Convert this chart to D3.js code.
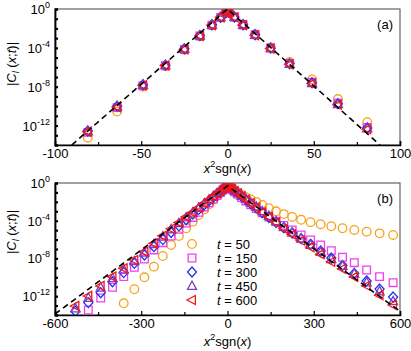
<!DOCTYPE html>
<html><head><meta charset="utf-8">
<script src="https://cdn.jsdelivr.net/npm/d3@7"></script>
<style>
body{margin:0;background:#fff;}
svg{display:block;font-family:"Liberation Sans",Arial,sans-serif;}
</style></head>
<body><svg id="c" width="411" height="351"></svg>
<script>
// ---------- DATA ----------
const seriesNames = ["t = 50","t = 150","t = 300","t = 450","t = 600"];
const seriesColors = ["#f7a21b","#f03ef0","#1c32f0","#7a3fc0","#f41515"];
const seriesShapes = ["circle","square","diamond","triangleUp","triangleLeft"];

// panel (a): x^2 sgn(x) for x = -9..9 ; values as log10|C|
const xA = [-81,-64,-49,-36,-25,-16,-9,-4,-1,0,1,4,9,16,25,36,49,64,81];
const a50  = [-13.25,-10.55,-8.0,-5.9,-4.2,-2.8,-1.68,-0.88,-0.42,-0.12,-0.37,-0.83,-1.6,-2.6,-3.95,-5.45,-7.25,-9.27,-11.65];
const a150 = [-12.7,-10.15,-7.9,-5.84,-4.17,-2.78,-1.67,-0.86,-0.4,-0.1,-0.36,-0.84,-1.64,-2.66,-4.02,-5.6,-7.55,-9.7,-12.2];
const a300 = [-12.55,-10.0,-7.8,-5.78,-4.1,-2.74,-1.63,-0.84,-0.38,-0.08,-0.34,-0.82,-1.62,-2.66,-4.03,-5.63,-7.6,-9.75,-12.25];
const a450 = [-12.6,-10.05,-7.82,-5.8,-4.12,-2.75,-1.64,-0.85,-0.4,-0.1,-0.35,-0.83,-1.64,-2.68,-4.05,-5.66,-7.65,-9.8,-12.3];
const a600 = [-12.63,-10.1,-7.85,-5.81,-4.15,-2.77,-1.66,-0.86,-0.4,-0.1,-0.35,-0.85,-1.66,-2.7,-4.08,-5.7,-7.68,-9.86,-12.38];
const lineAx = [-90.3,0,88.4];
const lineAy = [-14,0,-14];

// panel (b): x^2 sgn(x) for x = -24..24 ; values as log10|C| (null = below axis)
const xB = [-576,-529,-484,-441,-400,-361,-324,-289,-256,-225,-196,-169,-144,-121,-100,-81,-64,-49,-36,-25,-16,-9,-4,-1,
            0,1,4,9,16,25,36,49,64,81,100,121,144,169,196,225,256,289,324,361,400,441,484,529,576];
const b50  = [null,null,null,null,null,-12.76,-11.27,-10.0,-8.87,-7.74,-6.57,-5.62,-4.8,-4.1,-3.4,-2.8,-2.25,-1.75,-1.35,-1.0,-0.75,-0.55,-0.42,-0.33,
              -0.3,-0.32,-0.38,-0.48,-0.62,-0.8,-1.0,-1.25,-1.5,-1.75,-2.0,-2.33,-2.68,-3.0,-3.3,-3.6,-3.9,-4.15,-4.37,-4.58,-4.8,-4.98,-5.16,-5.34,-5.51];
const b150 = [null,null,-13.47,-12.2,-11.06,-9.93,-8.94,-8.06,-7.1,-6.33,-5.62,-4.9,-4.25,-3.65,-3.1,-2.55,-2.1,-1.7,-1.3,-1.0,-0.72,-0.52,-0.38,-0.3,
              -0.27,-0.3,-0.37,-0.5,-0.68,-0.92,-1.2,-1.55,-1.9,-2.3,-2.72,-3.15,-3.6,-4.05,-4.5,-4.98,-5.51,-6.04,-6.57,-7.18,-7.88,-8.45,-9.23,-9.93,-10.57];
const b300 = [null,-13.6,-12.69,-11.63,-10.47,-9.5,-8.52,-7.64,-6.75,-6.0,-5.25,-4.55,-3.9,-3.3,-2.8,-2.3,-1.88,-1.5,-1.15,-0.9,-0.66,-0.48,-0.36,-0.28,
              -0.25,-0.28,-0.35,-0.47,-0.63,-0.85,-1.1,-1.42,-1.78,-2.2,-2.65,-3.15,-3.65,-4.2,-4.75,-5.3,-5.9,-6.5,-7.2,-7.95,-8.75,-9.6,-10.4,-11.25,-12.1];
const b450 = [null,-13.3,-12.2,-11.1,-10.1,-9.2,-8.3,-7.4,-6.5,-5.7,-4.93,-4.27,-3.66,-3.15,-2.64,-2.18,-1.77,-1.42,-1.11,-0.86,-0.64,-0.48,-0.35,-0.28,
              -0.25,-0.28,-0.35,-0.47,-0.63,-0.84,-1.08,-1.37,-1.7,-2.1,-2.53,-3.0,-3.5,-4.07,-4.7,-5.28,-5.9,-6.58,-7.3,-8.08,-8.8,-9.62,-10.55,-11.5,-12.55];
const b600 = [null,-13.04,-11.98,-10.92,-9.93,-9.05,-8.17,-7.28,-6.4,-5.6,-4.85,-4.2,-3.6,-3.1,-2.6,-2.15,-1.75,-1.4,-1.1,-0.85,-0.63,-0.47,-0.35,-0.28,
              -0.25,-0.28,-0.35,-0.47,-0.63,-0.85,-1.1,-1.4,-1.75,-2.15,-2.6,-3.1,-3.6,-4.2,-4.85,-5.45,-6.1,-6.8,-7.55,-8.35,-9.1,-9.95,-10.9,-11.9,-12.94];
const lineBx = [-600,0,600];
const lineBy = [-13.9,-0.3,-13.6];

const xTicksA = [-100,-50,0,50,100], xMinorA = [-75,-25,25,75];
const xTicksB = [-600,-300,0,300,600], xMinorB = [-450,-150,150,450];
const yLabelExps = [0,-4,-8,-12];
const yTickExps = [0,-1,-2,-3,-4,-5,-6,-7,-8,-9,-10,-11,-12,-13,-14];

// ---------- DRAW ----------
const svg = d3.select("#c");
const L = 55, R = 400;
const panels = [
  {top:9, bottom:145, xd:[-100,100], ticks:xTicksA, minor:xMinorA, tag:"(a)", xs:xA,
   data:[a50,a150,a300,a450,a600], lx:lineAx, ly:lineAy, legend:false, xtitleY:173, ytitleY:64},
  {top:183, bottom:315, xd:[-600,600], ticks:xTicksB, minor:xMinorB, tag:"(b)", xs:xB,
   data:[b50,b150,b300,b450,b600], lx:lineBx, ly:lineBy, legend:true, xtitleY:346, ytitleY:232}
];

function shapePath(shape, s){
  const h = s/2;
  switch(shape){
    case "circle": return null;
    case "square": { const a=h*0.85; return `M${-a},${-a}H${a}V${a}H${-a}Z`; }
    case "diamond": return `M0,${-h-0.5}L${h},0L0,${h+0.5}L${-h},0Z`;
    case "triangleUp": return `M0,${-h-0.5}L${h},${h*0.75}L${-h},${h*0.75}Z`;
    case "triangleLeft": return `M${-h-0.5},0L${h*0.75},${-h}L${h*0.75},${h}Z`;
  }
}
function drawMarker(g, shape, color, x, y){
  if(shape==="circle"){
    g.append("circle").attr("cx",x).attr("cy",y).attr("r",4.3)
     .attr("fill","none").attr("stroke",color).attr("stroke-width",1.3);
  } else {
    g.append("path").attr("d",shapePath(shape,9)).attr("transform",`translate(${x},${y})`)
     .attr("fill","none").attr("stroke",color).attr("stroke-width",1.3);
  }
}

panels.forEach((p,i)=>{
  const x = d3.scaleLinear().domain(p.xd).range([L,R]);
  const y = d3.scaleLog().domain([1e-14,1]).range([p.bottom,p.top]);
  const cid = "clip"+i;
  svg.append("clipPath").attr("id",cid).append("rect")
    .attr("x",L).attr("y",p.top).attr("width",R-L).attr("height",p.bottom-p.top);

  // frame
  svg.append("rect").attr("x",L).attr("y",p.top).attr("width",R-L).attr("height",p.bottom-p.top)
    .attr("fill","none").attr("stroke","#444").attr("stroke-width",1);

  // x axis
  const gx = svg.append("g").attr("transform",`translate(0,${p.bottom})`)
    .call(d3.axisBottom(x).tickValues(p.ticks).tickSize(-4).tickPadding(4).tickFormat(d=>String(d)));
  gx.select(".domain").attr("stroke","#000").attr("stroke-width",1.6);
  gx.selectAll(".tick line").attr("stroke","#000").attr("stroke-width",1.2);
  gx.selectAll("text").attr("font-size",13).attr("fill","#000").attr("font-family","Liberation Sans, Arial, sans-serif");
  const gxm = svg.append("g").attr("transform",`translate(0,${p.bottom})`)
    .call(d3.axisBottom(x).tickValues(p.minor).tickSize(-3).tickFormat(""));
  gxm.select(".domain").remove();
  gxm.selectAll(".tick line").attr("stroke","#000").attr("stroke-width",1.2);

  // y axis
  const gy = svg.append("g").attr("transform",`translate(${L},0)`)
    .call(d3.axisLeft(y).tickValues(yTickExps.map(e=>Math.pow(10,e))).tickSize(-3).tickPadding(5).tickFormat(""));
  gy.select(".domain").attr("stroke","#000").attr("stroke-width",1.8);
  gy.selectAll(".tick line").attr("stroke","#000").attr("stroke-width",2.2);
  gy.selectAll(".tick text").remove();
  yLabelExps.forEach(e=>{
    const t = svg.append("text").attr("x",L-5).attr("y",y(Math.pow(10,e))+5)
      .attr("text-anchor","end").attr("font-size",13).attr("fill","#000");
    t.append("tspan").text("10");
    t.append("tspan").attr("font-size",9).attr("dy",-6).text(String(e));
  });

  // marks
  const gm = svg.append("g").attr("clip-path",`url(#${cid})`);
  p.data.forEach((arr,k)=>{
    p.xs.forEach((xv,j)=>{
      const v = arr[j];
      if(v===null) return;
      drawMarker(gm, seriesShapes[k], seriesColors[k], x(xv), y(Math.pow(10,v)));
    });
  });
  const lineData = p.lx.map((xv,j)=>[xv, Math.pow(10,p.ly[j])]);
  gm.append("path").datum(lineData)
    .attr("d", d3.line().x(d=>x(d[0])).y(d=>y(d[1])))
    .attr("fill","none").attr("stroke","#000").attr("stroke-width",1.6).attr("stroke-dasharray","6,4");

  // tag
  svg.append("text").attr("x",393).attr("y",p.top+20).attr("text-anchor","end")
    .attr("font-size",13).attr("fill","#000").text(p.tag);

  // x title
  const xt = svg.append("text").attr("x",(L+R)/2).attr("y",p.xtitleY).attr("text-anchor","middle")
    .attr("font-size",13).attr("fill","#000");
  xt.append("tspan").attr("font-style","italic").text("x");
  xt.append("tspan").attr("font-size",9).attr("dy",-6).text("2");
  xt.append("tspan").attr("dy",6).text("sgn(");
  xt.append("tspan").attr("font-style","italic").text("x");
  xt.append("tspan").text(")");

  // y title
  const yt = svg.append("text").attr("transform",`translate(16,${p.ytitleY}) rotate(-90)`)
    .attr("text-anchor","middle").attr("font-size",13).attr("fill","#000");
  yt.append("tspan").text("|");
  yt.append("tspan").attr("font-style","italic").text("C");
  yt.append("tspan").attr("font-style","italic").attr("font-size",9).attr("dy",3).text("l");
  yt.append("tspan").attr("dy",-3).text(" (");
  yt.append("tspan").attr("font-style","italic").text("x");
  yt.append("tspan").text(";");
  yt.append("tspan").attr("font-style","italic").text("t");
  yt.append("tspan").text(")|");

  // legend
  if(p.legend){
    seriesNames.forEach((nm,k)=>{
      const ly = 244 + k*14;
      drawMarker(svg, seriesShapes[k], seriesColors[k], 192, ly);
      const t = svg.append("text").attr("x",217).attr("y",ly+5).attr("font-size",13).attr("fill","#000");
      t.append("tspan").attr("font-style","italic").text("t");
      t.append("tspan").text(nm.slice(1));
    });
  }
});
</script></body></html>
